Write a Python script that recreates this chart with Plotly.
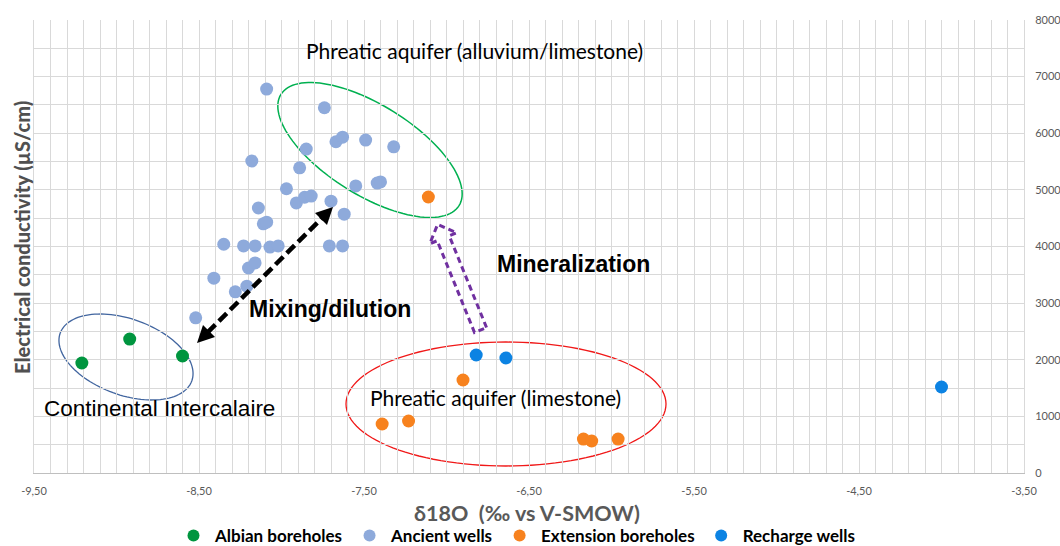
import numpy as np
import plotly.graph_objects as go

# ---------------- data ----------------
albian_x = [-9.21, -8.92, -8.60]
albian_y = [1943, 2366, 2066]

ancient_x = [-8.09, -7.74, -7.67, -7.63, -7.49, -7.32, -7.85, -8.18, -7.89, -7.55,
             -7.42, -7.40, -7.97, -7.91, -7.86, -7.82, -7.70, -8.14, -7.62, -8.11,
             -8.09, -8.35, -8.23, -8.16, -8.07, -8.02, -7.71, -7.63, -8.20, -8.16,
             -8.41, -8.28, -8.21, -8.52]
ancient_y = [6780, 6450, 5850, 5930, 5880, 5760, 5720, 5510, 5390, 5070,
             5120, 5140, 5020, 4770, 4870, 4890, 4800, 4680, 4570, 4400,
             4430, 4040, 4010, 4010, 3990, 4010, 4010, 4010, 3620, 3710,
             3440, 3200, 3300, 2740]

ext_x = [-7.11, -6.90, -7.39, -7.23, -6.17, -6.12, -5.96]
ext_y = [4874, 1642, 865, 918, 600, 565, 600]

rech_x = [-6.82, -6.64, -4.00]
rech_y = [2084, 2031, 1519]

series_names = ["Albian boreholes", "Ancient wells", "Extension boreholes", "Recharge wells"]
series_colors = ["#00953f", "#8eaadb", "#f7821e", "#0c83e3"]

x_tick_vals = [-9.5, -8.5, -7.5, -6.5, -5.5, -4.5, -3.5]
x_tick_text = ["-9,50", "-8,50", "-7,50", "-6,50", "-5,50", "-4,50", "-3,50"]
y_tick_vals = [0, 1000, 2000, 3000, 4000, 5000, 6000, 7000, 8000]
y_tick_text = ["0", "1000", "2000", "3000", "4000", "5000", "6000", "7000", "8000"]

X_RANGE = [-9.5, -3.5]
Y_RANGE = [0, 8000]

# ---------------- layout geometry ----------------
W, H = 1060, 546
ML, MR, MT, MB = 34, 36, 20, 73
PW, PH = W - ML - MR, H - MT - MB


def dx(px):
    return X_RANGE[0] + (px - ML) * (X_RANGE[1] - X_RANGE[0]) / PW


def dy(py):
    return Y_RANGE[1] - (py - MT) * (Y_RANGE[1] - Y_RANGE[0]) / PH


def path_from_px(pts, close=True):
    s = "M " + " L ".join(f"{dx(p[0]):.5f},{dy(p[1]):.3f}" for p in pts)
    return s + (" Z" if close else "")


def ellipse_path(cx, cy, a, b, deg):
    th = np.radians(deg)
    t = np.linspace(0, 2 * np.pi, 121)
    xs = cx + a * np.cos(t) * np.cos(th) - b * np.sin(t) * np.sin(th)
    ys = cy + a * np.cos(t) * np.sin(th) + b * np.sin(t) * np.cos(th)
    return path_from_px(list(zip(xs, ys)))


FONT_C = "Lato, 'Open Sans', sans-serif"
FONT_A = "'Liberation Sans', Arial, sans-serif"

fig = go.Figure()
for name, col, xs, ys in zip(series_names, series_colors,
                             [albian_x, ancient_x, ext_x, rech_x],
                             [albian_y, ancient_y, ext_y, rech_y]):
    fig.add_trace(go.Scatter(x=xs, y=ys, mode="markers", name=name,
                             marker=dict(size=13, color=col, line=dict(width=0))))

shapes = []
# ellipses
shapes.append(dict(type="path", path=ellipse_path(370, 150, 105, 45, 32),
                   line=dict(color="#00b050", width=1.5), layer="below"))
shapes.append(dict(type="path", path=ellipse_path(126, 357, 70, 38, 20),
                   line=dict(color="#41659f", width=1.3), layer="below"))
shapes.append(dict(type="path", path=ellipse_path(506, 404, 160, 62, 0),
                   line=dict(color="#f01818", width=1.3), layer="below"))

# black dashed double arrow (mixing/dilution)
P1 = np.array([197.0, 343.0])
P2 = np.array([333.0, 207.0])
u = (P2 - P1) / np.linalg.norm(P2 - P1)
n = np.array([-u[1], u[0]])
hl, hw = 17, 8.5
a1 = P1 + u * (hl - 2)
a2 = P2 - u * (hl - 2)
shapes.append(dict(type="line", x0=dx(a1[0]), y0=dy(a1[1]), x1=dx(a2[0]), y1=dy(a2[1]),
                   line=dict(color="black", width=4.5, dash="11px,5px")))
for tip, d in [(P1, u), (P2, -u)]:
    base = tip + d * hl
    tri = [tip, base + n * hw, base - n * hw]
    shapes.append(dict(type="path", path=path_from_px(tri), fillcolor="black",
                       line=dict(color="black", width=0)))

# purple dashed hollow block arrow (mineralization)
tip = np.array([437.6, 224.4])
tail = np.array([480.5, 330.0])
uu = (tip - tail) / np.linalg.norm(tip - tail)
nn = np.array([-uu[1], uu[0]])
head_len, head_hw, shaft_hw = 15, 14.5, 6.5
bc = tip - uu * head_len
poly = [tail + nn * shaft_hw, bc + nn * shaft_hw, bc + nn * head_hw, tip,
        bc - nn * head_hw, bc - nn * shaft_hw, tail - nn * shaft_hw]
shapes.append(dict(type="path", path=path_from_px(poly),
                   line=dict(color="#7030a0", width=3, dash="6px,4px")))

annotations = []


def add_text(text, px, py, size, family, bold=False, color="black"):
    annotations.append(dict(x=dx(px), y=dy(py), xref="x", yref="y", text=text,
                            showarrow=False, xanchor="center", yanchor="middle",
                            font=dict(size=size, family=family, color=color,
                                      weight="bold" if bold else "normal")))


add_text("Phreatic aquifer (alluvium/limestone)", 474, 50, 21, FONT_C)
add_text("Mixing/dilution", 330, 309, 23, FONT_A, bold=True)
add_text("Mineralization", 573, 264, 23, FONT_A, bold=True)
add_text("Phreatic aquifer (limestone)", 495, 397, 21, FONT_C)
add_text("Continental Intercalaire", 159, 408, 22.5, FONT_A)

# axis titles
annotations.append(dict(x=(527 - ML) / PW, y=(MT + PH - 513) / PH, xref="paper", yref="paper",
                        text="δ18O\u00a0 (‰ vs V-SMOW)", showarrow=False,
                        xanchor="center", yanchor="middle",
                        font=dict(size=21.5, family=FONT_C, color="#595959", weight="bold")))
annotations.append(dict(x=(22 - ML) / PW, y=(MT + PH - 238) / PH, xref="paper", yref="paper",
                        text="Electrical conductivity (µS/cm)", showarrow=False, textangle=-90,
                        xanchor="center", yanchor="middle",
                        font=dict(size=20, family=FONT_C, color="#505050", weight=900)))

GRID = "#d9d9d9"
fig.update_layout(
    width=W, height=H,
    margin=dict(l=ML, r=MR, t=MT, b=MB, autoexpand=False),
    paper_bgcolor="white", plot_bgcolor="white",
    shapes=shapes, annotations=annotations,
    showlegend=True,
    legend=dict(orientation="h", x=(172 - ML) / PW, xanchor="left",
                y=(MT + PH - 518) / PH, yanchor="top",
                font=dict(size=17, family=FONT_C, color="black", weight="bold"),
                bgcolor="rgba(0,0,0,0)", itemsizing="constant", itemwidth=33),
    xaxis=dict(range=X_RANGE, tickvals=x_tick_vals, ticktext=x_tick_text,
               showgrid=True, gridcolor=GRID, gridwidth=1, zeroline=False,
               showline=True, linecolor="#bfbfbf", linewidth=1.2,
               ticks="", ticklabelstandoff=8,
               tickfont=dict(size=11, family=FONT_C, color="#595959"),
               minor=dict(dtick=0.1, tick0=-9.5, showgrid=True, gridcolor=GRID, gridwidth=1)),
    yaxis=dict(range=Y_RANGE, side="right", tickvals=y_tick_vals, ticktext=y_tick_text,
               showgrid=True, gridcolor=GRID, gridwidth=1, zeroline=False,
               showline=True, linecolor=GRID, mirror=True,
               ticks="", ticklabelstandoff=8,
               tickfont=dict(size=11, family=FONT_C, color="#595959"),
               minor=dict(dtick=500, showgrid=True, gridcolor=GRID, gridwidth=1)),
)

fig.write_html("out.html",
               config={"displayModeBar": False},
               post_script="document.body.style.margin='0';document.body.style.padding='0';"
                           "document.documentElement.style.overflow='hidden';")
